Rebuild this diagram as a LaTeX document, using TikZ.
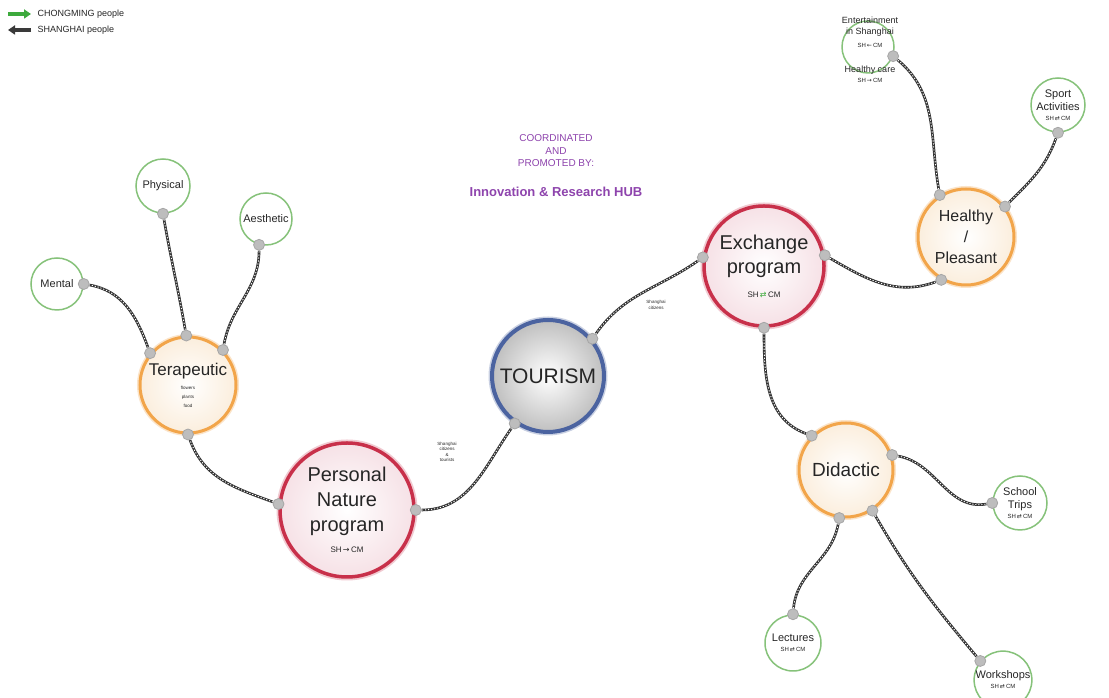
\documentclass[tikz,border=0pt]{standalone}
\usepackage{fontspec}
\setmainfont{Liberation Sans}
\newfontfamily\symf{DejaVu Sans}
\usetikzlibrary{arrows.meta}
\pgfdeclarelayer{bg}
\pgfsetlayers{bg,main}
\definecolor{ringred}{HTML}{C8304A}
\definecolor{pinkfill}{HTML}{F6E1E6}
\definecolor{ringorange}{HTML}{F2A54A}
\definecolor{orangefill}{HTML}{FBEEDD}
\definecolor{ringblue}{HTML}{4B63A0}
\definecolor{ringgreen}{HTML}{86C27A}
\definecolor{txt}{HTML}{262626}
\definecolor{purp}{HTML}{8E44AD}
\definecolor{cmgreen}{HTML}{3DAA3D}
\definecolor{shdark}{HTML}{3A3A3A}
\definecolor{dotgray}{HTML}{BDBDBD}
\newcommand{\fsz}[2]{\fontsize{#1}{#2}\selectfont}
\newcommand{\twoarr}{{\symf ⇄}}
\newcommand{\gtwoarr}{\textcolor{cmgreen}{\symf ⇄}}
\newcommand{\rarr}{{\symf →}}
\newcommand{\larr}{{\symf ←}}
\begin{document}
\begin{tikzpicture}[x=1pt,y=1pt,text=txt,
 bigc/.style={circle,inner sep=0pt,align=center,line width=3.5pt},
 redc/.style={bigc,draw=ringred,inner color=white,outer color=pinkfill,preaction={draw=ringred!25,line width=7pt}},
 orc/.style={bigc,draw=ringorange,line width=3pt,inner color=white,outer color=orangefill,preaction={draw=ringorange!30,line width=6pt}},
 bluec/.style={bigc,draw=ringblue,line width=4pt,inner color=white,outer color=gray!50,preaction={draw=ringblue!30,line width=7pt}},
 leaf/.style={circle,inner sep=0pt,align=center,draw=ringgreen,line width=1.5pt,fill=white},
 dotc/.style={circle,inner sep=0pt,minimum size=11pt,draw=gray!70,line width=0.8pt,fill=dotgray},
 rope/.style={draw=black!80,line width=2.6pt,postaction={draw=white,line width=0.9pt,dash pattern=on 1.2pt off 1.8pt}},
 tiny/.style={font=\fsz{4.5}{5.5},align=center,text=txt}]
\begin{pgfonlayer}{bg}
\fill[white] (0,0) rectangle (1109,698);
\end{pgfonlayer}
\useasboundingbox (0,0) rectangle (1109,698);

% legend
\coordinate (g0) at (8,684); \coordinate (g1) at (31,684);
\coordinate (g2) at (8,668); \coordinate (g3) at (31,668);
\draw[cmgreen,line width=3.5pt,-{Triangle[length=7pt,width=9pt]}] (g0) -- (g1);
\draw[shdark,line width=3.5pt,-{Triangle[length=7pt,width=9pt]}] (g3) -- (g2);
\node[anchor=west,font=\fsz{9}{10}] (lg1) at (34,684) {CHONGMING people};
\node[anchor=west,font=\fsz{9}{10}] (lg2) at (34,668) {SHANGHAI people};

% centre text
\node[font=\fsz{10}{12.5},text=purp,align=center] (coord) at (556,547) {COORDINATED\\AND\\PROMOTED BY:};
\node[font=\bfseries\fsz{13}{15},text=purp] (hub) at (556,506) {Innovation \& Research HUB};

% main circles
\node[bluec,minimum size=112pt,font=\fsz{21}{24}] (tour) at (548,322) {TOURISM};
\node[redc,minimum size=120pt,font=\fsz{20}{24}] (exch) at (764,432) {Exchange\\program\\{\fsz{8}{10}SH\,\gtwoarr\,CM}};
\node[redc,minimum size=134pt,font=\fsz{20}{25}] (pers) at (347,188) {Personal\\Nature\\program\\[-4pt]{\fsz{8}{10}SH\,\rarr\,CM}};
\node[orc,minimum size=96pt,font=\fsz{17}{19}] (ter) at (188,313) {Terapeutic\\[-5pt]{\fsz{4.5}{5}flowers}\\[-10pt]{\fsz{4.5}{5}plants}\\[-10pt]{\fsz{4.5}{5}food}};
\node[orc,minimum size=96pt,font=\fsz{16}{21}] (heal) at (966,461) {Healthy\\/\\Pleasant};
\node[orc,minimum size=94pt,font=\fsz{19}{22}] (did) at (846,228) {Didactic};

% leaves
\node[leaf,minimum size=52pt,font=\fsz{11}{13}] (ment) at (57,414) {Mental};
\node[leaf,minimum size=54pt,font=\fsz{11}{13}] (phys) at (163,512) {Physical};
\node[leaf,minimum size=52pt,font=\fsz{11}{13}] (aes) at (266,479) {Aesthetic};
\node[leaf,minimum size=54pt,font=\fsz{11}{13}] (sport) at (1058,593) {Sport\\Activities\\[-3pt]{\fsz{6}{7}SH\,\twoarr\,CM}};
\node[leaf,minimum size=54pt,font=\fsz{11}{13}] (school) at (1020,195) {School\\Trips\\[-3pt]{\fsz{6}{7}SH\,\twoarr\,CM}};
\node[leaf,minimum size=56pt,font=\fsz{11}{13}] (lect) at (793,55) {Lectures\\[-3pt]{\fsz{6}{7}SH\,\twoarr\,CM}};
\node[leaf,minimum size=56pt,font=\fsz{11}{13}] (work) at (1003,18) {Workshops\\[-3pt]{\fsz{6}{7}SH\,\twoarr\,CM}};
\node[leaf,minimum size=52pt] (ent) at (868,651) {};
\node[font=\fsz{9}{10}] (entl1) at (870,678) {Entertainment};
\node[font=\fsz{9}{10}] (entl2) at (870,666) {in Shanghai};
\node[font=\fsz{6}{7}] (entl3) at (870,653) {SH\,\larr\,CM};
\node[font=\fsz{9}{10}] (entl4) at (870,628) {Healthy care};
\node[font=\fsz{6}{7}] (entl5) at (870,618) {SH\,\rarr\,CM};

% connector labels
\node[tiny] (lab1) at (447,246) {Shanghai\\citizens\\\&\\tourists};
\node[tiny] (lab2) at (656,393) {Shanghai\\citizens};

% dots
\node[dotc] (t1) at (tour.235) {};
\node[dotc] (p1) at (pers.0) {};
\node[dotc] (t2) at (tour.40) {};
\node[dotc] (e1) at (exch.172) {};
\node[dotc] (e2) at (exch.10) {};
\node[dotc] (h1) at (heal.240) {};
\node[dotc] (e3) at (exch.270) {};
\node[dotc] (d1) at (did.135) {};
\node[dotc] (p2) at (pers.175) {};
\node[dotc] (r1) at (ter.270) {};
\node[dotc] (r2) at (ter.140) {};
\node[dotc] (m1) at (ment.0) {};
\node[dotc] (r3) at (ter.92) {};
\node[dotc] (f1) at (phys.270) {};
\node[dotc] (r4) at (ter.45) {};
\node[dotc] (a1) at (aes.255) {};
\node[dotc] (h2) at (heal.122) {};
\node[dotc] (n1) at (ent.-20) {};
\node[dotc] (h3) at (heal.38) {};
\node[dotc] (s1) at (sport.270) {};
\node[dotc] (d2) at (did.18) {};
\node[dotc] (c1) at (school.180) {};
\node[dotc] (d3) at (did.262) {};
\node[dotc] (l1) at (lect.90) {};
\node[dotc] (d4) at (did.303) {};
\node[dotc] (w1) at (work.140) {};

\begin{pgfonlayer}{bg}
\draw[rope] (t1) to[out=235,in=0] (p1);
\draw[rope] (t2) to[out=55,in=215] (e1);
\draw[rope] (e2) to[out=-30,in=200] (h1);
\draw[rope] (e3) to[out=270,in=160] (d1);
\draw[rope] (p2) to[out=160,in=290] (r1);
\draw[rope] (r2) to[out=110,in=-10] (m1);
\draw[rope] (r3) to[out=100,in=-80] (f1);
\draw[rope] (r4) to[out=80,in=-90] (a1);
\draw[rope] (h2) to[out=100,in=-40] (n1);
\draw[rope] (h3) to[out=45,in=250] (s1);
\draw[rope] (d2) to[out=-10,in=190] (c1);
\draw[rope] (d3) to[out=260,in=85] (l1);
\draw[rope] (d4) to[out=-60,in=130] (w1);
\end{pgfonlayer}
\end{tikzpicture}
\end{document}
